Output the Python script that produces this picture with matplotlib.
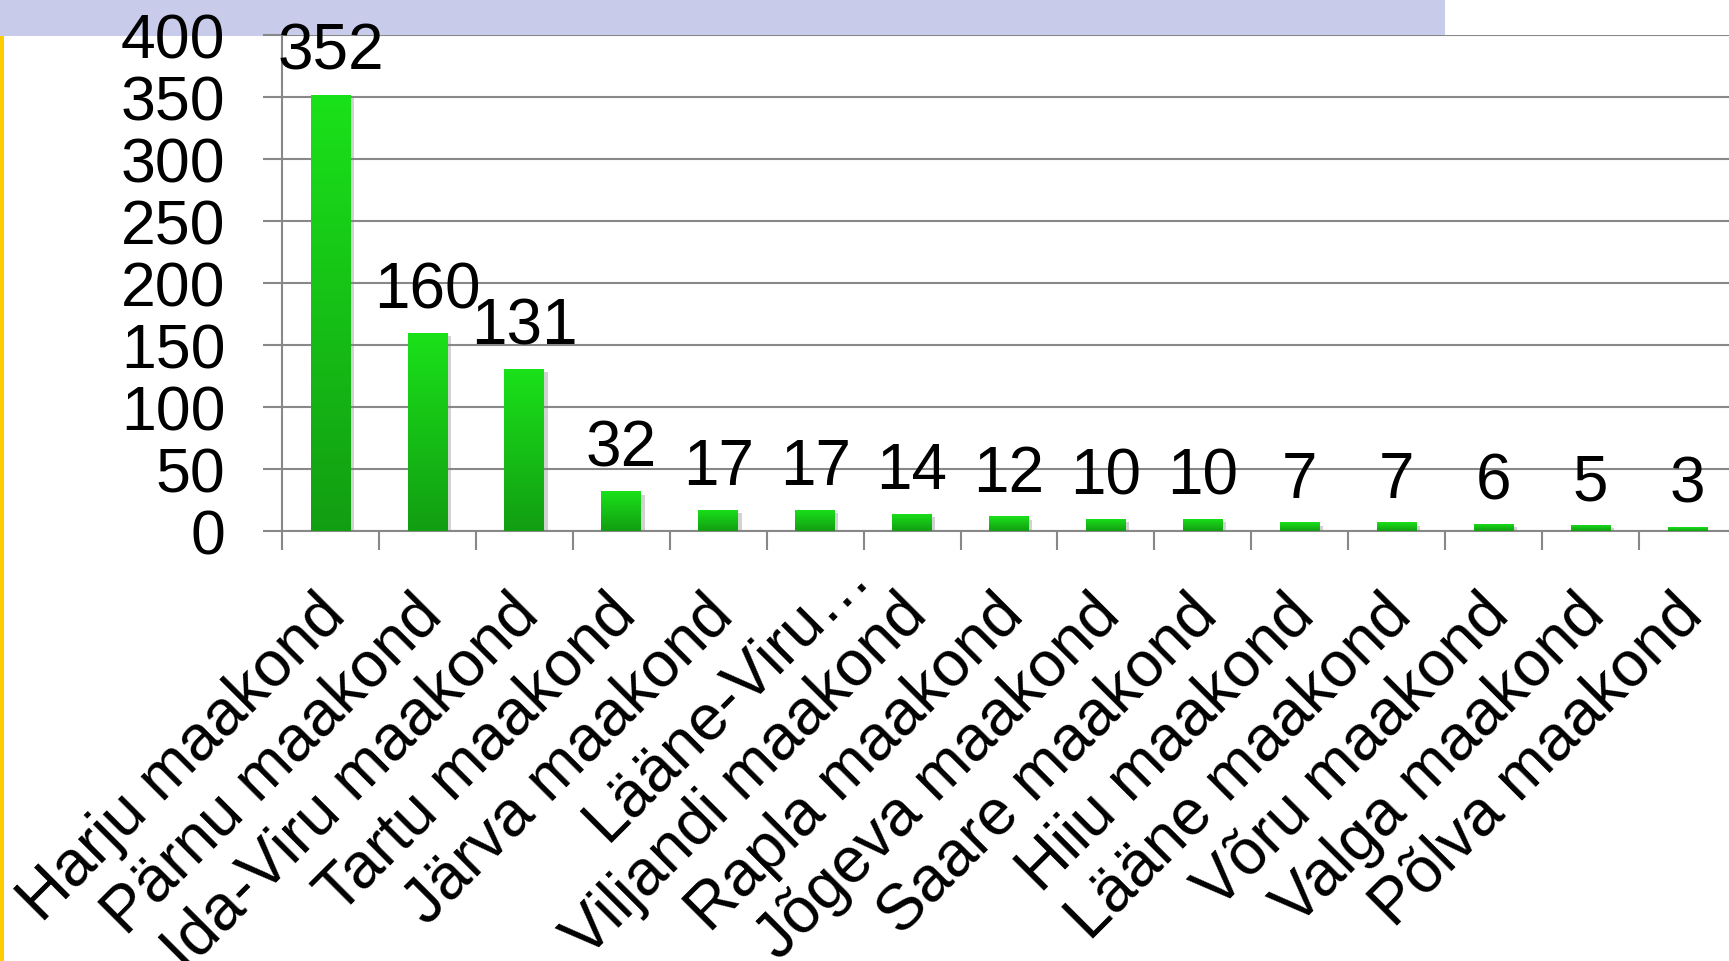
import matplotlib
matplotlib.use('Agg')
import matplotlib.pyplot as plt
import numpy as np
from matplotlib.patches import Rectangle
from matplotlib.transforms import ScaledTranslation
import matplotlib.patheffects as pe

categories = ["Harju maakond", "Pärnu maakond", "Ida-Viru maakond", "Tartu maakond",
              "Järva maakond", "Lääne-Viru…", "Viljandi maakond", "Rapla maakond",
              "Jõgeva maakond", "Saare maakond", "Hiiu maakond", "Lääne maakond",
              "Võru maakond", "Valga maakond", "Põlva maakond"]
values = [352, 160, 131, 32, 17, 17, 14, 12, 10, 10, 7, 7, 6, 5, 3]
yticks = [0, 50, 100, 150, 200, 250, 300, 350, 400]

plt.rcParams['font.family'] = ['Liberation Sans', 'DejaVu Sans']

W, H, DPI = 1729, 962, 100
fig = plt.figure(figsize=(W / DPI, H / DPI), dpi=DPI, facecolor='white')

# decorations from the slide
fig.add_artist(Rectangle((0, 1 - 37 / H), 1445 / W, 37 / H, transform=fig.transFigure,
                         facecolor='#C8CBE9', edgecolor='none', zorder=0))
fig.add_artist(Rectangle((0, 0), 4 / W, 1 - 37 / H, transform=fig.transFigure,
                         facecolor='#FFCC00', edgecolor='none', zorder=0))

ax = fig.add_axes([282 / W, (H - 532) / H, (1736 - 282) / W, 496 / H])
ax.set_zorder(1)
ax.patch.set_alpha(0)

n = len(categories)
x = np.arange(n)
bars = ax.bar(x, values, width=0.41, color='#16C016', zorder=3)

top_c = np.array([0x1A, 0xE2, 0x1A]) / 255
bot_c = np.array([0x12, 0x9E, 0x12]) / 255
g = np.linspace(0, 1, 256)[:, None, None]
grad = bot_c + (top_c - bot_c) * g
for b in bars:
    b.set_path_effects([pe.SimplePatchShadow(offset=(2.5, -2.5), shadow_rgbFace='#808080', alpha=0.35),
                        pe.Normal()])
    im = ax.imshow(grad, extent=[b.get_x(), b.get_x() + b.get_width(), 0, b.get_height()],
                   origin='lower', aspect='auto', zorder=4, interpolation='bilinear')
    im.set_clip_path(b)

ax.set_xlim(-0.5, n - 0.5)
ax.set_ylim(0, 400)
ax.set_yticks(yticks)
ax.set_yticklabels([str(t) for t in yticks])
ax.yaxis.grid(True, color='#888888', linewidth=1.5)
ax.set_axisbelow(True)
for s in ['top', 'right']:
    ax.spines[s].set_visible(False)
for s in ['left', 'bottom']:
    ax.spines[s].set_color('#888888')
    ax.spines[s].set_linewidth(1.5)
ax.tick_params(axis='y', length=13.7, width=1.5, color='#888888', pad=27, labelsize=45,
               direction='out')
ax.set_xticks(np.arange(-0.5, n, 1))
ax.tick_params(axis='x', length=13.7, width=1.5, color='#888888', labelbottom=False,
               direction='out')

for i, v in enumerate(values):
    ax.annotate(str(v), (i, v), xytext=(0, 18.4), textcoords='offset points',
                ha='center', va='baseline', fontsize=46, zorder=6)

extra = {5: (0.40, 0.40)}
for i, lab in enumerate(categories):
    ex, ey = extra.get(i, (0, 0))
    tr = ax.get_xaxis_transform() + ScaledTranslation(0.05 + ex, -0.735 + ey, fig.dpi_scale_trans)
    ax.text(i, 0, lab, transform=tr, rotation=45, rotation_mode='anchor',
            ha='right', va='center', fontsize=46, clip_on=False)

fig.savefig('out.png', dpi=DPI, facecolor='white')
